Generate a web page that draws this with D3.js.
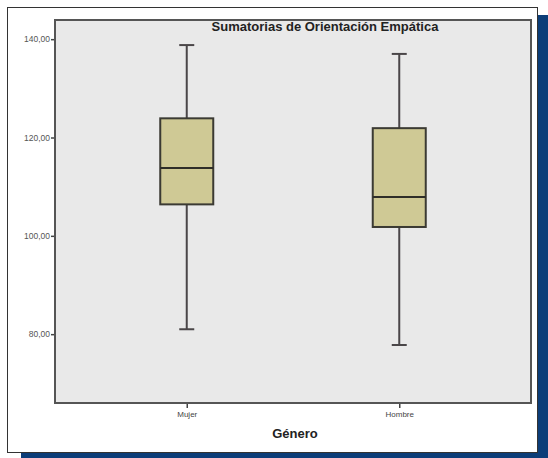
<!DOCTYPE html>
<html><head><meta charset="utf-8">
<script src="https://cdn.jsdelivr.net/npm/d3@7/dist/d3.min.js"></script>
<style>body{margin:0;background:#fff}svg{display:block}</style>
</head><body>
<script>
const categories = ["Mujer", "Hombre"];
const whiskerLow = [81.0, 77.8];
const q1 = [106.4, 101.8];
const median = [113.8, 107.9];
const q3 = [123.9, 121.9];
const whiskerHigh = [138.8, 137.0];
const yTicks = [80, 100, 120, 140];

const W = 548, H = 458;
const svg = d3.select("body").append("svg").attr("width", W).attr("height", H);

// page decorations
svg.append("rect").attr("x", 538).attr("y", 15).attr("width", 10).attr("height", H - 15).attr("fill", "#0c3d78");
svg.append("rect").attr("x", 21).attr("y", 453).attr("width", W - 21).attr("height", 5).attr("fill", "#0c3d78");
svg.append("rect").attr("x", 7.5).attr("y", 7.5).attr("width", 530).attr("height", 445)
  .attr("fill", "#fff").attr("stroke", "#333").attr("stroke-width", 1);

const plot = {l: 55, t: 20, r: 531, b: 403};
const y = d3.scaleLinear().domain([66, 143.9]).range([plot.b, plot.t]);
const x = d3.scalePoint().domain(categories).range([plot.l, plot.r]).padding(0.62);

svg.append("rect").attr("x", plot.l).attr("y", plot.t).attr("width", plot.r - plot.l).attr("height", plot.b - plot.t)
  .attr("fill", "#e9e9e9");

const fmt = d => d.toFixed(2).replace(".", ",");
const yAxis = svg.append("g").attr("transform", `translate(${plot.l},0)`)
  .call(d3.axisLeft(y).tickValues(yTicks).tickFormat(fmt).tickSize(4).tickPadding(1));
yAxis.select(".domain").remove();
yAxis.selectAll("line").attr("stroke", "#444").attr("stroke-width", 1.5);
yAxis.selectAll("text").attr("fill", "#555").style("font", "8.5px 'Liberation Sans', Arial, sans-serif");

const xAxis = svg.append("g").attr("transform", `translate(0,${plot.b})`)
  .call(d3.axisBottom(x).tickSize(5).tickPadding(3));
xAxis.select(".domain").remove();
xAxis.selectAll("line").attr("stroke", "#444").attr("stroke-width", 1.5);
xAxis.selectAll("text").attr("fill", "#444").style("font", "8px 'Liberation Sans', Arial, sans-serif");

// plot frame
svg.append("rect").attr("x", plot.l).attr("y", plot.t).attr("width", plot.r - plot.l).attr("height", plot.b - plot.t)
  .attr("fill", "none").attr("stroke", "#555").attr("stroke-width", 2);

const bw = 53, cap = 15;
const g = svg.append("g").selectAll("g").data(categories).join("g");
g.append("line").attr("x1", d => x(d)).attr("x2", d => x(d))
  .attr("y1", (d, i) => y(whiskerLow[i])).attr("y2", (d, i) => y(whiskerHigh[i]))
  .attr("stroke", "#4a4648").attr("stroke-width", 2);
g.append("line").attr("x1", d => x(d) - cap / 2).attr("x2", d => x(d) + cap / 2)
  .attr("y1", (d, i) => y(whiskerHigh[i])).attr("y2", (d, i) => y(whiskerHigh[i]))
  .attr("stroke", "#4a4648").attr("stroke-width", 2);
g.append("line").attr("x1", d => x(d) - cap / 2).attr("x2", d => x(d) + cap / 2)
  .attr("y1", (d, i) => y(whiskerLow[i])).attr("y2", (d, i) => y(whiskerLow[i]))
  .attr("stroke", "#4a4648").attr("stroke-width", 2);
g.append("rect").attr("x", d => x(d) - bw / 2).attr("width", bw)
  .attr("y", (d, i) => y(q3[i])).attr("height", (d, i) => y(q1[i]) - y(q3[i]))
  .attr("fill", "#cfc995").attr("stroke", "#3b3a33").attr("stroke-width", 2);
g.append("line").attr("x1", d => x(d) - bw / 2).attr("x2", d => x(d) + bw / 2)
  .attr("y1", (d, i) => y(median[i])).attr("y2", (d, i) => y(median[i]))
  .attr("stroke", "#2f2e28").attr("stroke-width", 2);

svg.append("text").attr("x", 325).attr("y", 31).attr("text-anchor", "middle")
  .style("font", "bold 13px 'Liberation Sans', Arial, sans-serif").attr("fill", "#222")
  .text("Sumatorias de Orientación Empática");
svg.append("text").attr("x", 295).attr("y", 438).attr("text-anchor", "middle")
  .style("font", "bold 13px 'Liberation Sans', Arial, sans-serif").attr("fill", "#222")
  .text("Género");
</script>
</body></html>
